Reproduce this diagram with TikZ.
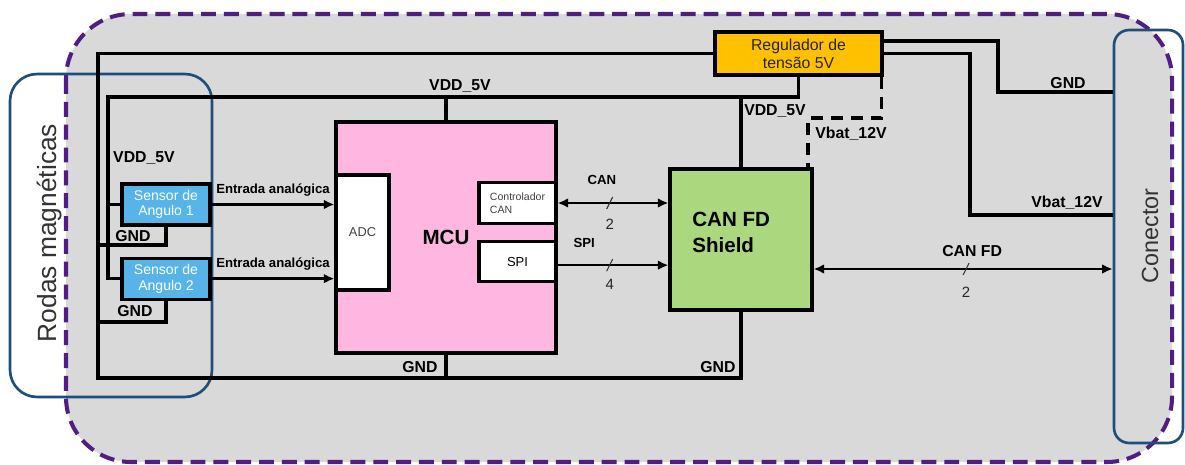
\documentclass[tikz,border=0pt]{standalone}
\usepackage{fontspec}
\setmainfont{Liberation Sans}
\usepackage{tikz}
\usetikzlibrary{arrows.meta,positioning,calc}
\definecolor{wheelblue}{RGB}{31,78,121}
\definecolor{framepurple}{RGB}{80,30,130}
\definecolor{panelgray}{RGB}{217,217,217}
\definecolor{mcupink}{RGB}{255,183,226}
\definecolor{sensorblue}{RGB}{86,180,233}
\definecolor{shieldgreen}{RGB}{171,215,127}
\definecolor{reggold}{RGB}{255,192,0}

\begin{document}
\begin{tikzpicture}[x=0.02cm, y=-0.02cm,
  block/.style={rectangle, draw=black, line width=1.8pt, inner sep=1pt},
  sensorbox/.style={block, fill=sensorblue, text=white, align=center,
    minimum width=1.76cm, minimum height=0.82cm, font=\fontsize{8}{8.8}\selectfont},
  port/.style={block, fill=white, minimum width=1.54cm, minimum height=0.81cm},
  wheelbox/.style={rectangle, draw=wheelblue, line width=1.5pt},
  wire/.style={line width=1.8pt, draw=black},
  dashwire/.style={wire, dash pattern=on 0.24cm off 0.16cm},
  sig/.style={line width=1.5pt, -{Latex[length=6pt, width=5.5pt]}},
  dsig/.style={line width=1.5pt, {Latex[length=6pt, width=5.5pt]}-{Latex[length=6pt, width=5.5pt]}},
  slash/.style={line width=0.6pt, draw=black!80},
  net/.style={font=\fontsize{9}{10}\selectfont\bfseries, inner sep=0pt},
  sigtxt/.style={font=\fontsize{7.5}{9}\selectfont\bfseries, inner sep=0pt},
  count/.style={font=\fontsize{8.5}{10}\selectfont, inner sep=0pt, text=black!85}
]
\path[use as bounding box, fill=white] (0,0) rectangle (1185,465);
\draw[framepurple, line width=2.3pt, dash pattern=on 8.5pt off 4.5pt, fill=panelgray,
  rounded corners=1.3cm] (66,14) rectangle (1172,462);

\node[wheelbox, rounded corners=0.54cm, minimum width=4.04cm, minimum height=6.46cm] (wheels) at (111,235.5) {};
\node[rotate=90, font=\fontsize{15}{18}\selectfont, text=black!80] (wheelstxt) at (50,233) {Rodas magnéticas};
\node[wheelbox, rounded corners=0.3cm, minimum width=1.38cm, minimum height=8.26cm] (con) at (1148.5,236.5) {};
\node[rotate=90, font=\fontsize{13.3}{16}\selectfont, text=black!80] (contxt) at (1150,236) {Conector};

\node[block, fill=mcupink, minimum width=4.4cm, minimum height=4.62cm,
  font=\fontsize{11.7}{14}\selectfont\bfseries] (mcu) at (446,237.5) {MCU};
\node[block, fill=white, minimum width=1.06cm, minimum height=2.3cm,
  font=\fontsize{7.3}{9}\selectfont, text=black!75] (adc) at (362.5,232.5) {ADC};
\node[port, align=left, font=\fontsize{6}{7.4}\selectfont, text=black!75] (ctrl) at (517.5,203) {Controlador\\CAN};
\node[port, below=0.3cm of ctrl, font=\fontsize{7.4}{9}\selectfont] (spi) {SPI};

\node[block, fill=shieldgreen, minimum width=2.84cm, minimum height=2.82cm] (shield) at (741,239.5) {};
\node[font=\fontsize{11.7}{14.8}\selectfont\bfseries, align=left, anchor=west, inner sep=0pt] (shieldtxt) at (692,232) {CAN FD\\Shield};

\node[block, fill=reggold, minimum width=3.34cm, minimum height=0.86cm, align=center,
  font=\fontsize{9}{10.2}\selectfont, text=black!85] (reg) at (798.5,53.5) {Regulador de\\tensão 5V};

\node[sensorbox] (s1) at (166,204.5) {Sensor de\\Angulo 1};
\node[sensorbox, below=0.6cm of s1] (s2) {Sensor de\\Angulo 2};

\coordinate (gndbus) at (98,378);
\coordinate (vddbus) at (108,97);
\coordinate (gnd1) at (98,245);
\coordinate (gnd2) at (98,322);
\coordinate (gndrow) at (998,92);
\coordinate (vbatrow) at (970,215);
\coordinate (vbatdash) at (808,118);
\coordinate (fdrow) at (0,269);
\coordinate (spiout) at ([yshift=-0.07cm]spi.east);

\draw[wire] (reg.west) -| (gndbus) -| (shield.south);
\draw[wire] (mcu.south) -- (mcu.south |- gndbus);
\draw[wire] (s1.south) |- (gnd1);
\draw[wire] (s2.south) |- (gnd2);
\draw[wire] (reg.south) |- (vddbus) |- (s2.west);
\draw[wire] (s1.west) -- (s1.west -| vddbus);
\draw[wire] (mcu.north) -- (mcu.north |- vddbus);
\draw[wire] (shield.north) -- (shield.north |- vddbus);
\draw[wire] ([yshift=0.25cm]reg.east) -| (gndrow) -- (gndrow -| con.west);
\draw[wire] (reg.east) -| (vbatrow) -- (vbatrow -| con.west);
\draw[dashwire] ([xshift=-0.04cm]reg.south east) |- (vbatdash) -- (vbatdash |- shield.north);

\draw[sig] (s1.east) -- (s1.east -| adc.west) node[sigtxt, midway, above=4pt] (in1) {Entrada analógica};
\draw[sig] (s2.east) -- (s2.east -| adc.west) node[sigtxt, midway, above=4pt] (in2) {Entrada analógica};

\draw[dsig] (ctrl.east) -- (ctrl.east -| shield.west)
  coordinate[pos=0.47] (canmid) node[sigtxt, pos=0.4, above=9.9pt] (cantxt) {CAN};
\draw[slash] ([shift={(-3,6)}]canmid) -- ([shift={(3,-6)}]canmid);
\node[count, below=9pt of canmid] (cancount) {2};

\draw[sig] (spiout) -- (spiout -| shield.west)
  coordinate[pos=0.47] (spimid) node[sigtxt, pos=0.24, above=9pt] (spitxt) {SPI};
\draw[slash] ([shift={(-3,6)}]spimid) -- ([shift={(3,-6)}]spimid);
\node[count, below=7.8pt of spimid] (spicount) {4};

\draw[dsig] (shield.east |- fdrow) -- (con.west |- fdrow)
  coordinate[pos=0.51] (fdmid) node[net, pos=0.53, above=6.2pt] (fdtxt) {CAN FD};
\draw[slash] ([shift={(-3,6)}]fdmid) -- ([shift={(3,-6)}]fdmid);
\node[count, below=10pt of fdmid] (fdcount) {2};

\node[net] (vddtop) at (460,86.5) {VDD\_5V};
\node[net] (vddshield) at (775,111.5) {VDD\_5V};
\node[net] (vddsensor) at (144,158) {VDD\_5V};
\node[net] (vbatdashtxt) at (851,134) {Vbat\_12V};
\node[net] (vbatcon) at (1067,203) {Vbat\_12V};
\node[net] (gndcon) at (1068,83) {GND};
\node[net] (gnds1) at (133,236) {GND};
\node[net] (gnds2) at (135,311) {GND};
\node[net] (gndmcu) at (420,367.5) {GND};
\node[net] (gndshield) at (718,367.5) {GND};
\end{tikzpicture}
\end{document}
